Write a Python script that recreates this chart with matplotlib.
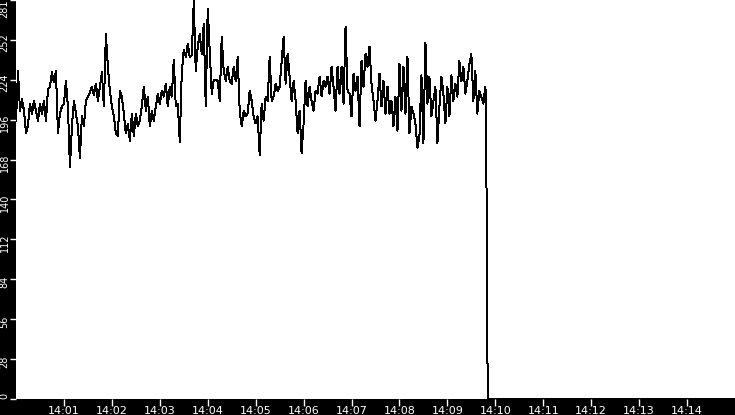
import matplotlib
matplotlib.use("Agg")
import matplotlib.pyplot as plt
import matplotlib.transforms as mtransforms
import numpy as np

# ---- data (readings every 2.5 s starting 14:00:00) ----
step_seconds = 2.5
values_1 = [196, 231, 203, 211, 203, 187, 193, 208, 201, 210, 203, 196, 208, 201, 210, 196, 218, 220, 230, 223,
            231, 187, 201, 206, 208, 224, 206, 163, 192, 210, 201, 192, 170, 199, 192, 210, 213, 216, 220, 214]
values_2 = [222, 210, 220, 230, 206, 257, 234, 217, 206, 199, 187, 185, 217, 213, 201, 187, 194, 182, 201, 185,
            201, 192, 196, 206, 220, 203, 213, 192, 203, 196, 206, 215, 208, 217, 213, 222, 206, 220, 213, 239]
values_3 = [206, 208, 181, 230, 246, 241, 250, 241, 242, 280, 231, 248, 257, 243, 264, 206, 275, 245, 215, 225,
            225, 224, 210, 255, 231, 224, 234, 224, 222, 234, 224, 241, 203, 192, 203, 199, 201, 217, 210, 199]
values_4 = [194, 199, 172, 208, 196, 213, 210, 241, 210, 213, 222, 217, 220, 238, 255, 222, 243, 227, 210, 224,
            210, 187, 203, 173, 194, 224, 206, 220, 210, 203, 217, 215, 227, 213, 224, 220, 227, 215, 234, 220]
values_5 = [203, 234, 215, 234, 208, 262, 217, 215, 199, 229, 217, 227, 192, 238, 220, 243, 234, 248, 222, 210,
            196, 210, 229, 206, 224, 201, 220, 201, 210, 192, 213, 189, 236, 203, 234, 201, 241, 187, 206, 201]
values_6 = [194, 177, 185, 228, 180, 251, 208, 227, 199, 210, 220, 180, 206, 227, 215, 194, 220, 199, 228, 210,
            222, 213, 238, 224, 234, 215, 224, 236, 243, 210, 231, 201, 217, 213, 208, 220]
tail_seconds = [588.5, 589.3, 590.5, 900.0]
tail_values = [210, 100, 0, 0]

y_max = 281
y_tick_labels = ["0", "28", "56", "84", "112", "140", "168", "196", "224", "252", "281"]
x_tick_labels = ["14:01", "14:02", "14:03", "14:04", "14:05", "14:06", "14:07",
                 "14:08", "14:09", "14:10", "14:11", "14:12", "14:13", "14:14"]

main_values = values_1 + values_2 + values_3 + values_4 + values_5 + values_6
seconds = [i * step_seconds for i in range(len(main_values))] + tail_seconds
vals = main_values + tail_values
minutes = np.array(seconds) / 60.0

W, H = 735, 415
fig = plt.figure(figsize=(W / 100, H / 100), dpi=100, facecolor="black")
ax = fig.add_axes([16 / W, 16 / H, (W - 16) / W, 399 / H])
ax.set_facecolor("white")
ax.plot(minutes, vals, color="black", lw=0.72, antialiased=False)

ax.set_xlim(0, 15)
ax.set_ylim(0, y_max)
for s in ax.spines.values():
    s.set_visible(False)

ax.set_xticks(range(1, 15))
ax.set_xticklabels(x_tick_labels)
yt = [i * y_max / 10 for i in range(11)]
ax.set_yticks(yt)
ax.set_yticklabels(y_tick_labels, rotation=90)

ax.tick_params(axis="both", colors="white", direction="out", length=5, width=1,
               labelcolor="white")
ax.tick_params(axis="x", pad=0.3, labelsize=8)
ax.tick_params(axis="y", pad=0.2, labelsize=7, length=4.5)

ylabels = ax.get_yticklabels()
off = mtransforms.ScaledTranslation(0, -3 / 100, fig.dpi_scale_trans)
for i, lab in enumerate(ylabels):
    if i == 0:
        lab.set_va("bottom")
    elif i == len(ylabels) - 1:
        lab.set_va("top")
    else:
        lab.set_va("center")
        lab.set_transform(lab.get_transform() + off)

fig.savefig("out.png", dpi=100, facecolor="black")
